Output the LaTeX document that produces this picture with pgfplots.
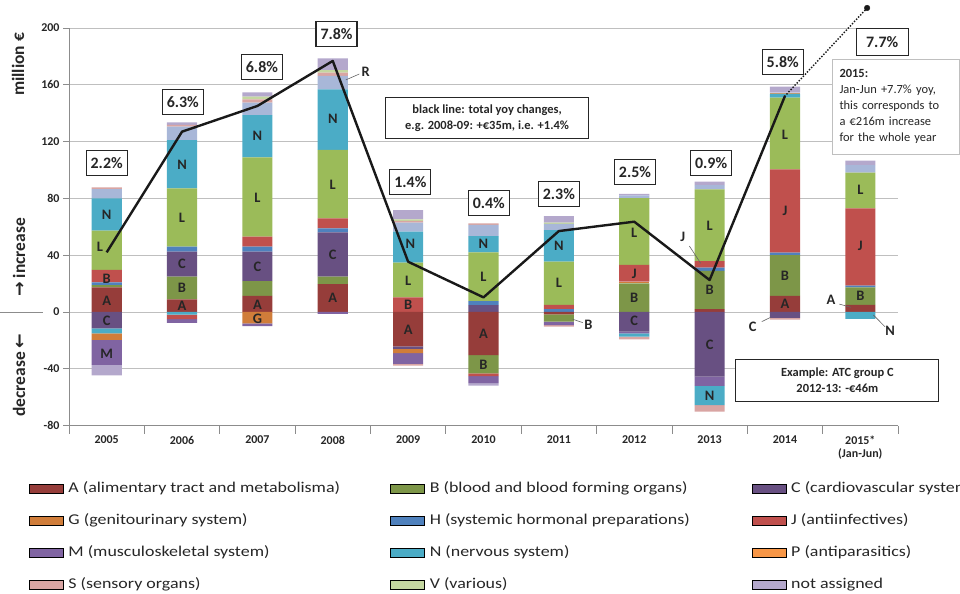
\documentclass[border=0pt]{standalone}
\usepackage{pgfplots}
\usepackage{pgfplotstable}
\pgfplotsset{compat=1.18}
\usepackage{fontspec}
\setmainfont{Carlito}
\newfontfamily\dejavu{DejaVu Sans}
\newfontfamily\legfont[FakeStretch=1.2]{Carlito}

\definecolor{cA}{RGB}{150,61,58}
\definecolor{cB}{RGB}{125,150,72}
\definecolor{cC}{RGB}{104,80,130}
\definecolor{cG}{RGB}{208,125,58}
\definecolor{cH}{RGB}{79,129,189}
\definecolor{cJ}{RGB}{192,80,77}
\definecolor{cL}{RGB}{155,187,89}
\definecolor{cM}{RGB}{128,100,162}
\definecolor{cN}{RGB}{75,172,198}
\definecolor{cP}{RGB}{247,150,70}
\definecolor{cR}{RGB}{168,183,216}
\definecolor{cS}{RGB}{217,165,163}
\definecolor{cV}{RGB}{196,215,160}
\definecolor{cNA}{RGB}{180,168,204}
\definecolor{txt}{RGB}{38,38,38}

% positive contributions (million EUR), stacked upward from 0
\pgfplotstableread{
x  A    B    C    G   H   J    L    N    P   R   S   V   NA
0  17.4 1.6  0    0   1.9 8.7  27.7 22.8 0   6.4 1.3 0   0
1  8.9  16.0 17.6 0   3.5 0    41.1 34.0 0   9.4 1.2 0   1.9
2  11.3 10.5 20.7 0   3.5 7.0  55.9 29.8 0   8.7 2.4 1.8 3.1
3  19.7 5.2  31.2 0   2.8 7.1  48.1 42.7 0   9.4 2.3 1.9 8.2
4  0    0    0    0   0   10.3 24.4 21.9 0   6.4 1.1 1.2 6.5
5  0    0    4.9  0   2.8 0    34.3 11.5 0   7.8 1.1 0   0
6  0    0    0    0   2.0 3.1  30.3 22.3 0   4.3 0   0.9 4.7
7  0    20.2 0    1.2 0   11.7 47.1 0    0   2.0 0   0   0.9
8  2.1  26.8 0    0   2.3 4.7  50.5 0    0   3.0 0   0   2.4
9  11.3 28.8 0    0   1.7 58.7 50.4 2.8  0.8 0   0   0   4.2
10 5.1  12.3 0    0   1.1 54.5 25.1 0    0   5.4 0   0   3.1
}\pos

% negative contributions (million EUR), stacked downward from 0
\pgfplotstableread{
x  A     B     C     Na   J    G    M     Nb    S    NA
0  0     0     -11.5 -3.5 0    -4.7 -17.6 0     0    -7.3
1  0     0     0     -1.9 -3.1 0    -2.7  0     0    0
2  0     0     0     0    0    -8.0 -1.9  0     0    0
3  0     0     0     0    0    0    -1.4  0     0    0
4  -24.2 0     -1.8  0    0    -3.0 -7.6  0     -1.1 0
5  -30.3 -12.9 0     0    -1.9 0    -5.0  0     0    -1.8
6  -1.6  -5.2  0     0    0    0    -2.4  0     -1.1 0
7  0     0     -13.9 0    0    0    -1.1  -2.4  -1.8 0
8  0     0     -45.6 0    0    0    -6.5  -13.4 -4.7 0
9  0     0     -4.2  0    0    0    0     0     -1.2 0
10 0     0     0     0    0    0    0     -4.9  0    0
}\neg

\pgfplotsset{
  base/.style={scale only axis, width=829bp, height=397.6bp,
    at={(69bp,168.4bp)}, anchor=south west,
    xmin=-0.5, xmax=10.5, ymin=-80, ymax=200},
}
\tikzset{
  seg/.style={font=\bfseries\fontsize{14.5}{15}\selectfont, text=txt, inner sep=0pt},
  pct/.style={draw=black!85, line width=1.1bp, fill=white, text=txt,
    font=\bfseries\fontsize{16}{17}\selectfont, minimum width=41bp, minimum height=24.5bp, inner xsep=3bp},
  lead/.style={draw=black!60, line width=0.6bp},
}

\begin{document}
\begin{tikzpicture}
% ---------- axis 1: frame, grid, positive stacks
\begin{axis}[base, ybar stacked, bar width=0.4,
  axis x line*=bottom, axis y line*=left,
  axis line style={draw=black!45, line width=0.8bp},
  ymajorgrids, grid style={draw=black!25, line width=0.8bp},
  tick align=outside,
  ytick={-80,-40,0,40,80,120,160,200},
  yticklabels={-80,-40,0,40,80,120,160,200},
  yticklabel style={font=\bfseries\fontsize{12}{13}\selectfont, text=txt},
  major tick length=6bp, minor tick length=8bp,
  every tick/.style={draw=black!45, line width=0.8bp},
  xtick={0,1,2,3,4,5,6,7,8,9,10},
  xticklabels={2005,2006,2007,2008,2009,2010,2011,2012,2013,2014,{2015*\\[-1bp](Jan-Jun)}},
  xticklabel style={align=center, font=\bfseries\fontsize{12}{14}\selectfont, text=txt, yshift=-1bp},
  major x tick style={draw=none},
  minor xtick={-0.5,0.5,...,10.5},
]
\addplot[fill=cA, draw=none] table[x=x,y=A]{\pos};
\addplot[fill=cB, draw=none] table[x=x,y=B]{\pos};
\addplot[fill=cC, draw=none] table[x=x,y=C]{\pos};
\addplot[fill=cG, draw=none] table[x=x,y=G]{\pos};
\addplot[fill=cH, draw=none] table[x=x,y=H]{\pos};
\addplot[fill=cJ, draw=none] table[x=x,y=J]{\pos};
\addplot[fill=cL, draw=none] table[x=x,y=L]{\pos};
\addplot[fill=cN, draw=none] table[x=x,y=N]{\pos};
\addplot[fill=cP, draw=none] table[x=x,y=P]{\pos};
\addplot[fill=cR, draw=none] table[x=x,y=R]{\pos};
\addplot[fill=cS, draw=none] table[x=x,y=S]{\pos};
\addplot[fill=cV, draw=none] table[x=x,y=V]{\pos};
\addplot[fill=cNA, draw=none] table[x=x,y=NA]{\pos};
\end{axis}
% ---------- axis 2: negative stacks
\begin{axis}[base, ybar stacked, bar width=0.4, hide axis]
\addplot[fill=cA, draw=none] table[x=x,y=A]{\neg};
\addplot[fill=cB, draw=none] table[x=x,y=B]{\neg};
\addplot[fill=cC, draw=none] table[x=x,y=C]{\neg};
\addplot[fill=cN, draw=none] table[x=x,y=Na]{\neg};
\addplot[fill=cJ, draw=none] table[x=x,y=J]{\neg};
\addplot[fill=cG, draw=none] table[x=x,y=G]{\neg};
\addplot[fill=cM, draw=none] table[x=x,y=M]{\neg};
\addplot[fill=cN, draw=none] table[x=x,y=Nb]{\neg};
\addplot[fill=cS, draw=none] table[x=x,y=S]{\neg};
\addplot[fill=cNA, draw=none] table[x=x,y=NA]{\neg};
\end{axis}
% ---------- axis 3: total line, annotations, legend
\begin{axis}[base, hide axis, clip=false,
  legend columns=3,
  legend image code/.code={\fill[#1] (0bp,-4.6bp) rectangle (34bp,4.6bp);},
  legend style={draw=none, fill=none, inner sep=0pt, outer sep=0pt,
    at={(-0.04825,-0.1368)}, anchor=north west,
    column sep=0pt, row sep=15bp,
    font=\legfont\fontsize{15}{18}\selectfont, text=txt,
    nodes={inner sep=0pt, text height=13bp, text depth=4bp}},
]
\addplot[forget plot, color=black!90, line width=2.4bp, line join=round] coordinates {
  (0,42.0) (1,127.0) (2,145.1) (3,176.8) (4,35.4) (5,10.3) (6,57.0) (7,63.6) (8,22.5) (9,152.1)};
\addplot[forget plot, color=black!90, line width=2bp, line cap=round, dash pattern=on 0pt off 3bp] coordinates {
  (9,152.1) (10.09,214.1)};
\addplot[forget plot, only marks, mark=*, mark size=2.8bp, color=black!90] coordinates {(10.09,214.1)};

% percentage boxes
\node[pct] at (axis cs:0,105) {2.2\%};
\node[pct] at (axis cs:1.01,147.9) {6.3\%};
\node[pct] at (axis cs:2.06,172.5) {6.8\%};
\node[pct] at (axis cs:3.05,195.8) {7.8\%};
\node[pct] at (axis cs:4.03,91.5) {1.4\%};
\node[pct] at (axis cs:5.07,76.8) {0.4\%};
\node[pct] at (axis cs:6.0,83.1) {2.3\%};
\node[pct] at (axis cs:7.01,98.6) {2.5\%};
\node[pct] at (axis cs:8.02,104.9) {0.9\%};
\node[pct] at (axis cs:8.97,176.1) {5.8\%};
\node[pct, minimum width=52bp, minimum height=26.5bp] at (axis cs:10.29,190.1) {7.7\%};

% text boxes
\node[draw=black!85, line width=1bp, fill=white, text=txt, align=center,
  font=\bfseries\fontsize{12.5}{16}\selectfont, minimum width=203bp, minimum height=41bp]
  at (axis cs:5.047,136.4) {black line: total yoy changes,\\e.g. 2008-09: +€35m, i.e. +1.4\%};
\node[draw=black!25, line width=1bp, fill=white, text=txt, align=left,
  font=\fontsize{12.5}{16}\selectfont, text width=112bp, minimum height=94.7bp, inner xsep=7.5bp]
  at (axis cs:10.467,144.6) {\textbf{2015:}\\Jan-Jun +7.7\% yoy,\\this corresponds to\\a €216m increase\\for the whole year};
\node[draw=black!85, line width=1bp, fill=white, text=txt, align=center,
  font=\bfseries\fontsize{12.5}{16}\selectfont, minimum width=203bp, minimum height=41.7bp]
  at (axis cs:9.695,-48.0) {Example: ATC group C\\2012-13: -€46m};

% segment labels
\node[seg] at (axis cs:0,68.3) {N};
\node[seg] at (axis cs:-0.09,46) {L};
\node[seg] at (axis cs:0,23.2) {B};
\node[seg] at (axis cs:0,7.7) {A};
\node[seg] at (axis cs:0,-6.1) {C};
\node[seg] at (axis cs:0,-29.1) {M};
\node[seg] at (axis cs:1,104) {N};
\node[seg] at (axis cs:1,66.4) {L};
\node[seg] at (axis cs:1,33.6) {C};
\node[seg] at (axis cs:1,17.1) {B};
\node[seg] at (axis cs:1,4.5) {A};
\node[seg] at (axis cs:2,124) {N};
\node[seg] at (axis cs:2,80.5) {L};
\node[seg] at (axis cs:2,31.9) {C};
\node[seg] at (axis cs:2,5.4) {A};
\node[seg] at (axis cs:2,-4.5) {G};
\node[seg] at (axis cs:3,135.7) {N};
\node[seg] at (axis cs:3,89.9) {L};
\node[seg] at (axis cs:3,40.6) {C};
\node[seg] at (axis cs:3,10.1) {A};
\node[seg] at (axis cs:4.03,47.7) {N};
\node[seg] at (axis cs:4,22.1) {L};
\node[seg] at (axis cs:4,4.9) {B};
\node[seg] at (axis cs:4,-12.7) {A};
\node[seg] at (axis cs:5,47.7) {N};
\node[seg] at (axis cs:5,24.9) {L};
\node[seg] at (axis cs:5,-15.5) {A};
\node[seg] at (axis cs:5,-37.3) {B};
\node[seg] at (axis cs:6,46.7) {N};
\node[seg] at (axis cs:6,20.2) {L};
\node[seg] at (axis cs:7,56.1) {L};
\node[seg] at (axis cs:7,27.2) {J};
\node[seg] at (axis cs:7,10.1) {B};
\node[seg] at (axis cs:7,-6.3) {C};
\node[seg] at (axis cs:8,60.8) {L};
\node[seg] at (axis cs:8,15.5) {B};
\node[seg] at (axis cs:8,-23.2) {C};
\node[seg] at (axis cs:8,-58.9) {N};
\node[seg] at (axis cs:9,125.1) {L};
\node[seg] at (axis cs:9,71.3) {J};
\node[seg] at (axis cs:9,25.4) {B};
\node[seg] at (axis cs:9,5.6) {A};
\node[seg] at (axis cs:10,85.9) {L};
\node[seg] at (axis cs:10,46.5) {J};
\node[seg] at (axis cs:10,11.3) {B};

% outside labels with leader lines
\node[seg] at (axis cs:3.437,168.8) {R};
\draw[lead] (axis cs:3.172,163.4) -- (axis cs:3.352,167.6);
\node[seg] at (axis cs:6.391,-9.2) {B};
\draw[lead] (axis cs:6.184,-5.1) -- (axis cs:6.317,-7.5);
\node[seg] at (axis cs:7.644,52.6) {J};
\draw[lead] (axis cs:7.731,46.5) -- (axis cs:7.882,34.3);
\node[seg] at (axis cs:8.572,-10.4) {C};
\draw[lead] (axis cs:8.692,-6.8) -- (axis cs:8.811,-3.7);
\node[seg] at (axis cs:9.611,8.9) {A};
\draw[lead] (axis cs:9.721,5.6) -- (axis cs:9.873,3.3);
\node[seg] at (axis cs:10.394,-13.2) {N};
\draw[lead] (axis cs:10.173,-2.1) -- (axis cs:10.328,-10.4);

% legend
\addlegendimage{fill=cA}\addlegendentry{\hspace*{5bp}\makebox[322bp][l]{A (alimentary tract and metabolisma)}}
\addlegendimage{fill=cB}\addlegendentry{\hspace*{5bp}\makebox[322bp][l]{B (blood and blood forming organs)}}
\addlegendimage{fill=cC}\addlegendentry{\hspace*{5bp}\makebox[322bp][l]{C (cardiovascular system)}}
\addlegendimage{fill=cG}\addlegendentry{\hspace*{5bp}\makebox[322bp][l]{G (genitourinary system)}}
\addlegendimage{fill=cH}\addlegendentry{\hspace*{5bp}\makebox[322bp][l]{H (systemic hormonal preparations)}}
\addlegendimage{fill=cJ}\addlegendentry{\hspace*{5bp}\makebox[322bp][l]{J (antiinfectives)}}
\addlegendimage{fill=cM}\addlegendentry{\hspace*{5bp}\makebox[322bp][l]{M (musculoskeletal system)}}
\addlegendimage{fill=cN}\addlegendentry{\hspace*{5bp}\makebox[322bp][l]{N (nervous system)}}
\addlegendimage{fill=cP}\addlegendentry{\hspace*{5bp}\makebox[322bp][l]{P (antiparasitics)}}
\addlegendimage{fill=cS}\addlegendentry{\hspace*{5bp}\makebox[322bp][l]{S (sensory organs)}}
\addlegendimage{fill=cV}\addlegendentry{\hspace*{5bp}\makebox[322bp][l]{V (various)}}
\addlegendimage{fill=cNA}\addlegendentry{\hspace*{5bp}\makebox[322bp][l]{not assigned}}
\end{axis}

% y-axis side texts
\node[rotate=90, text=txt, font=\bfseries\fontsize{17.5}{20}\selectfont] at (18bp,529.5bp) {million €};
\node[rotate=90, text=txt, font=\bfseries\fontsize{17.5}{20}\selectfont] at (19bp,336.5bp) {{\dejavu →} increase};
\node[rotate=90, text=txt, font=\bfseries\fontsize{17.5}{20}\selectfont] at (19bp,219bp) {decrease {\dejavu ←}};
\draw[draw=black!45, line width=0.8bp] (0bp,282bp) -- (43bp,282bp);

\pgfresetboundingbox
\path (0bp,0bp) rectangle (960bp,594bp);
\end{tikzpicture}
\end{document}
